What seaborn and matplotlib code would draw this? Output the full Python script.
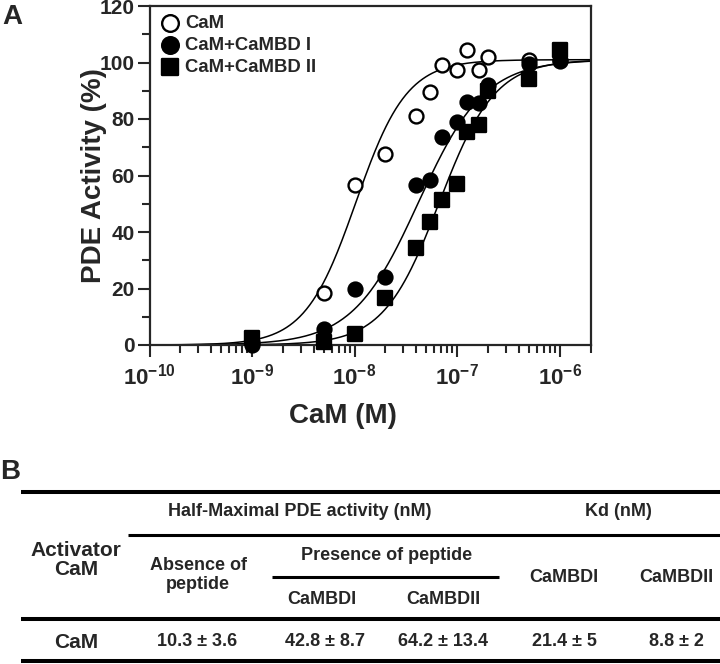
import numpy as np
import pandas as pd
import matplotlib
matplotlib.use("Agg")
import matplotlib.pyplot as plt
import seaborn as sns
from matplotlib.ticker import LogLocator, MultipleLocator, NullFormatter

# ---- panel A: PDE activity vs CaM concentration ----
series_names = ["CaM", "CaM+CaMBD I", "CaM+CaMBD II"]

conc_cam = [1e-9, 5e-9, 1e-8, 2e-8, 4e-8, 5.4e-8, 7.1e-8, 1e-7, 1.25e-7, 1.65e-7, 2e-7, 5e-7, 1e-6]
act_cam = [1, 18.5, 56.5, 67.5, 81, 89.5, 99, 97.5, 104.5, 97.5, 102, 101, 100.5]

conc_bd1 = [1e-9, 5e-9, 1e-8, 2e-8, 4e-8, 5.4e-8, 7.1e-8, 1e-7, 1.25e-7, 1.65e-7, 2e-7, 5e-7, 1e-6]
act_bd1 = [0, 5.5, 20, 24, 56.5, 58.5, 73.5, 79, 86, 85.5, 92, 99.5, 101]

conc_bd2 = [1e-9, 5e-9, 1e-8, 2e-8, 4e-8, 5.4e-8, 7.1e-8, 1e-7, 1.25e-7, 1.65e-7, 2e-7, 5e-7, 1e-6]
act_bd2 = [2.5, 1, 4, 16.5, 34.5, 43.5, 51.5, 57, 75.5, 78, 90, 94, 104.5]

# fitted sigmoid (Hill) parameters for the drawn curves
ec50_nM = [10.3, 42.0, 67.0]
hill_n = [1.75, 1.35, 1.6]
top_pct = 101

xtick_labels = [r"$\mathbf{10^{-10}}$", r"$\mathbf{10^{-9}}$", r"$\mathbf{10^{-8}}$",
                r"$\mathbf{10^{-7}}$", r"$\mathbf{10^{-6}}$"]

# ---- panel B: table ----
header_half = "Half-Maximal PDE activity (nM)"
header_kd = "Kd (nM)"
header_act = "Activator\nCaM"
header_absent = "Absence of\npeptide"
header_present = "Presence of peptide"
sub_headers = ["CaMBDI", "CaMBDII"]
kd_headers = ["CaMBDI", "CaMBDII"]
row_values = ["CaM", "10.3 \u00b1 3.6", "42.8 \u00b1 8.7", "64.2 \u00b1 13.4", "21.4 \u00b1 5", "8.8 \u00b1 2"]

sns.set_style("ticks")
plt.rcParams["font.family"] = ["Liberation Sans", "DejaVu Sans"]
plt.rcParams["font.weight"] = "bold"
plt.rcParams["mathtext.fontset"] = "custom"
plt.rcParams["mathtext.rm"] = "Liberation Sans:bold"
plt.rcParams["mathtext.it"] = "Liberation Sans:bold"
plt.rcParams["mathtext.bf"] = "Liberation Sans:bold"
plt.rcParams["mathtext.default"] = "bf"

fig = plt.figure(figsize=(7.2, 6.64), dpi=100)

# table canvas in pixel units (drawn first, below the plot)
tab = fig.add_axes([0, 0, 1, 1])
tab.set_xlim(0, 720)
tab.set_ylim(664, 0)
tab.axis("off")

ax = fig.add_axes([149.5 / 720, 1 - 345 / 664, 441 / 720, 339 / 664])

frames = []
for name, xs, ys in [(series_names[0], conc_cam, act_cam),
                     (series_names[1], conc_bd1, act_bd1),
                     (series_names[2], conc_bd2, act_bd2)]:
    frames.append(pd.DataFrame({"conc": xs, "activity": ys, "series": name}))
df = pd.concat(frames, ignore_index=True)

# fitted curves
xfit = np.logspace(-10, np.log10(2e-6), 400)
for name, k, n in zip(series_names, ec50_nM, hill_n):
    yfit = top_pct * xfit ** n / (xfit ** n + (k * 1e-9) ** n)
    sns.lineplot(x=xfit, y=yfit, ax=ax, color="black", lw=1.1, zorder=2)

styles = {
    series_names[0]: dict(marker="o", color="white"),
    series_names[1]: dict(marker="o", color="black"),
    series_names[2]: dict(marker="s", color="black"),
}
for name in series_names:
    sub = df[df["series"] == name]
    sns.scatterplot(data=sub, x="conc", y="activity", ax=ax, s=100,
                    edgecolor="black", linewidth=1.7, label=name,
                    clip_on=False, zorder=3, **styles[name])

ax.set_xscale("log")
ax.set_xlim(1e-10, 2e-6)
ax.set_ylim(0, 120)
ax.set_xticks([1e-10, 1e-9, 1e-8, 1e-7, 1e-6])
ax.set_xticklabels(xtick_labels)
ax.xaxis.set_minor_locator(LogLocator(base=10, subs=np.arange(2, 10), numticks=30))
ax.xaxis.set_minor_formatter(NullFormatter())
ax.set_yticks(range(0, 121, 20))
ax.yaxis.set_minor_locator(MultipleLocator(10))

for s in ax.spines.values():
    s.set_linewidth(1.6)
    s.set_visible(True)
ax.tick_params(axis="both", which="major", direction="out", length=8.5, width=1.5)
ax.tick_params(axis="x", which="major", labelsize=16, pad=5)
ax.tick_params(axis="y", which="major", labelsize=15, pad=2)
ax.tick_params(axis="both", which="minor", direction="out", length=6, width=1.5)
plt.setp(ax.get_yticklabels(), fontweight="bold")
plt.setp(ax.get_xticklabels(), fontweight="bold")

ax.set_xlabel("CaM (M)", fontsize=20, fontweight="bold")
ax.set_ylabel("PDE Activity (%)", fontsize=20, fontweight="bold")
ax.xaxis.set_label_coords(0.438, -0.172)
ax.yaxis.set_label_coords(-0.096, 0.5)

leg = ax.legend(loc="upper left", bbox_to_anchor=(0.008, 0.995), frameon=False,
                borderaxespad=0, handlelength=1.0, handletextpad=0.32,
                labelspacing=0.26, markerscale=1.2, prop=dict(size=13.3, weight="bold"))

fig.text(2 / 720, 1 - 17 / 664, "A", fontsize=20, fontweight="bold", va="center")
fig.text(0 / 720, 1 - 472 / 664, "B", fontsize=20, fontweight="bold", va="center")

# table rules: (y, x0, x1, width)
for y, x0, x1, w in [(491.5, 21, 720, 2.9), (535, 128, 720, 2.2), (577, 272, 499, 2.2),
                     (619, 21, 720, 2.9), (661, 21, 720, 2.9)]:
    tab.hlines(y, x0, x1, color="black", lw=w)

kw = dict(ha="center", va="center", fontweight="bold")
tab.text(300, 511, header_half, fontsize=13, **kw)
tab.text(618, 511, header_kd, fontsize=13, **kw)
tab.text(76, 560, header_act, fontsize=15, linespacing=1.0, **kw)
tab.text(198, 575, header_absent, fontsize=13, linespacing=1.15, **kw)
tab.text(387, 556, header_present, fontsize=13, **kw)
for xc, t in zip([322, 443], sub_headers):
    tab.text(xc, 599, t, fontsize=13, **kw)
for xc, t in zip([564, 676], kd_headers):
    tab.text(xc, 577, t, fontsize=13, **kw)
for i, (xc, t) in enumerate(zip([76, 197, 325, 443, 564, 676], row_values)):
    tab.text(xc, 642, t, fontsize=15 if i == 0 else 13, **kw)

fig.savefig("out.png", dpi=100)
